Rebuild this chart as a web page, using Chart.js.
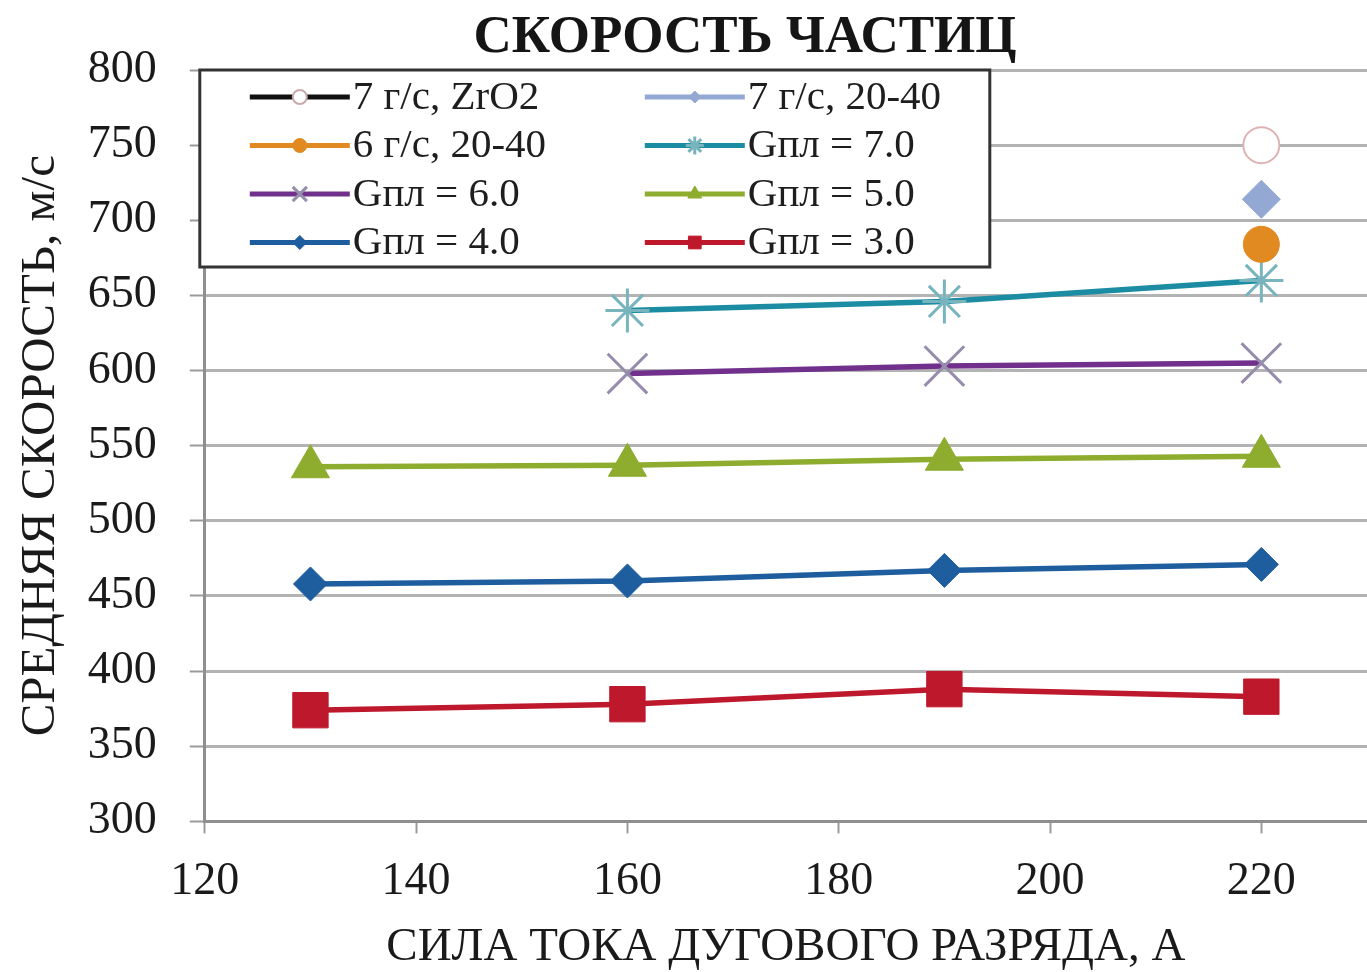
<!DOCTYPE html>
<html>
<head>
<meta charset="utf-8">
<script src="https://cdn.jsdelivr.net/npm/chart.js@4.4.1/dist/chart.umd.min.js"></script>
<style>
  html, body { margin: 0; padding: 0; background: #fff; overflow: hidden; }
  #wrap { width: 1367px; height: 972px; }
  canvas { display: block; }
</style>
</head>
<body>
<div id="wrap"><canvas id="myChart" width="1367" height="972"></canvas></div>
<script>
// current of the arc discharge, A
const currents = [130, 160, 190, 220];

// mean particle velocity, m/s (null = no measurement)
const zro2_7 = [null, null, null, 750];
const powder7_2040 = [null, null, null, 714];
const powder6_2040 = [null, null, null, 684];
const gpl7 = [null, 640, 646, 660];
const gpl6 = [null, 598, 603, 605];
const gpl5 = [536, 537, 541, 543];
const gpl4 = [458, 460, 467, 471];
const gpl3 = [374, 378, 388, 383];

const xTicks = [120, 140, 160, 180, 200, 220];
const yTicks = [300, 350, 400, 450, 500, 550, 600, 650, 700, 750, 800];

const SERIF = '"Liberation Serif", "Times New Roman", serif';

function points(values) {
    let out = [];
    for (let i = 0; i < currents.length; i++) {
        if (values[i] !== null) out.push({x: currents[i], y: values[i]});
    }
    return out;
}

function series(label, values, line, style) {
    return Object.assign({
        label: label,
        data: points(values),
        borderColor: line,
        backgroundColor: line,
        borderWidth: 5.5,
        pointBackgroundColor: line,
        pointBorderColor: line,
        pointBorderWidth: 1,
        tension: 0
    }, style);
}

const datasets = [
    series('7 г/с, ZrO2', zro2_7, '#111111', {
        pointStyle: 'circle', pointRadius: 18, pointBackgroundColor: '#ffffff',
        pointBorderColor: 'rgb(222,178,178)', pointBorderWidth: 2,
        legendMarker: {radius: 7, fill: '#ffffff', stroke: 'rgb(200,170,170)'}
    }),
    series('7 г/с, 20-40', powder7_2040, 'rgb(148,168,212)', {
        pointStyle: 'rectRot', pointRadius: 19, legendMarker: {radius: 6}
    }),
    series('6 г/с, 20-40', powder6_2040, 'rgb(226,138,34)', {
        pointStyle: 'circle', pointRadius: 18, legendMarker: {radius: 7}
    }),
    series('Gпл = 7.0', gpl7, 'rgb(28,140,162)', {
        pointStyle: 'star', pointRadius: 22, pointBorderColor: 'rgb(120,180,190)',
        pointBorderWidth: 3, legendMarker: {radius: 9, stroke: 'rgb(120,180,190)'}
    }),
    series('Gпл = 6.0', gpl6, 'rgb(112,48,140)', {
        pointStyle: 'crossRot', pointRadius: 28, pointBorderColor: 'rgb(150,140,172)',
        pointBorderWidth: 3, legendMarker: {radius: 10, stroke: 'rgb(150,140,172)'}
    }),
    series('Gпл = 5.0', gpl5, 'rgb(142,172,46)', {
        pointStyle: 'triangle', pointRadius: 22, legendMarker: {radius: 8}
    }),
    series('Gпл = 4.0', gpl4, 'rgb(30,94,158)', {
        pointStyle: 'rectRot', pointRadius: 17, legendMarker: {radius: 7}
    }),
    series('Gпл = 3.0', gpl3, 'rgb(190,24,44)', {
        pointStyle: 'rect', pointRadius: 25, legendMarker: {radius: 9}
    })
];

// two-column boxed legend drawn over the plot, like the original
const boxLegend = {
    id: 'boxLegend',
    afterDraw(chart) {
        const ctx = chart.ctx;
        const area = chart.chartArea;
        const left = area.left - 5, top = area.top;
        const w = 790, h = 197;
        ctx.save();
        ctx.fillStyle = '#ffffff';
        ctx.fillRect(left, top, w, h);
        ctx.strokeStyle = '#333333';
        ctx.lineWidth = 3;
        ctx.strokeRect(left, top, w, h);

        ctx.font = '41px ' + SERIF;
        ctx.textBaseline = 'middle';
        ctx.textAlign = 'left';
        chart.data.datasets.forEach((ds, i) => {
            const col = i % 2, row = Math.floor(i / 2);
            const x0 = left + 50 + col * 395;
            const y = top + 27 + row * 48.5;
            ctx.strokeStyle = ds.borderColor;
            ctx.lineWidth = 5;
            ctx.beginPath();
            ctx.moveTo(x0, y);
            ctx.lineTo(x0 + 100, y);
            ctx.stroke();
            const m = ds.legendMarker || {};
            const opts = {
                pointStyle: ds.pointStyle, rotation: 0,
                radius: m.radius || 7, borderWidth: ds.pointBorderWidth || 1
            };
            ctx.fillStyle = m.fill || ds.pointBackgroundColor;
            ctx.strokeStyle = m.stroke || ds.pointBorderColor;
            ctx.lineWidth = opts.borderWidth;
            if (Chart.helpers && Chart.helpers.drawPoint) {
                Chart.helpers.drawPoint(ctx, opts, x0 + 50, y);
            } else {
                ctx.beginPath();
                ctx.arc(x0 + 50, y, opts.radius, 0, Math.PI * 2);
                ctx.fill();
                ctx.stroke();
            }
            ctx.fillStyle = '#1e1e1e';
            ctx.fillText(ds.label, x0 + 103, y + 1);
        });
        ctx.restore();
    }
};

// title sits a bit left of the plot centre in the original
const plotTitle = {
    id: 'plotTitle',
    afterDraw(chart) {
        const ctx = chart.ctx;
        ctx.save();
        ctx.font = 'bold 53px ' + SERIF;
        ctx.fillStyle = '#151515';
        ctx.textAlign = 'center';
        ctx.textBaseline = 'middle';
        ctx.fillText('СКОРОСТЬ ЧАСТИЦ', 745, 38);
        ctx.restore();
    }
};

const config = {
    type: 'line',
    data: { datasets: datasets },
    options: {
        responsive: false,
        animation: false,
        layout: { autoPadding: false, padding: { top: 70, right: 0, bottom: -4, left: 12 } },
        plugins: {
            legend: { display: false },
            title: { display: false },
            tooltip: { enabled: false }
        },
        scales: {
            x: {
                type: 'linear',
                min: 120,
                max: 230,
                afterBuildTicks: axis => {
                    axis.ticks = xTicks.map(v => ({value: v}));
                },
                grid: {
                    drawOnChartArea: false,
                    drawTicks: true,
                    tickLength: 12,
                    tickWidth: 2,
                    tickColor: '#9a9a9a'
                },
                border: { color: '#8f8f8f', width: 3 },
                ticks: {
                    color: '#1a1a1a',
                    font: { family: SERIF, size: 46 },
                    padding: 21,
                    maxRotation: 0
                },
                title: {
                    display: true,
                    text: 'СИЛА ТОКА ДУГОВОГО РАЗРЯДА, А',
                    color: '#1a1a1a',
                    font: { family: SERIF, size: 47 },
                    padding: { top: -11, bottom: 0 }
                }
            },
            y: {
                min: 300,
                max: 800,
                afterBuildTicks: axis => {
                    axis.ticks = yTicks.map(v => ({value: v}));
                },
                grid: {
                    color: '#b3b3b3',
                    lineWidth: 3,
                    tickLength: 15,
                    tickColor: '#9a9a9a',
                    tickWidth: 2
                },
                border: { color: '#8f8f8f', width: 3 },
                ticks: {
                    color: '#1a1a1a',
                    font: { family: SERIF, size: 46 },
                    padding: 33
                },
                title: {
                    display: true,
                    text: 'СРЕДНЯЯ СКОРОСТЬ, м/с',
                    color: '#1a1a1a',
                    font: { family: SERIF, size: 49 },
                    padding: { top: 0, bottom: -16 }
                }
            }
        }
    },
    plugins: [boxLegend, plotTitle]
};

function drawChart() {
    const myChart = new Chart(document.getElementById('myChart'), config);
}

drawChart();
</script>
</body>
</html>
